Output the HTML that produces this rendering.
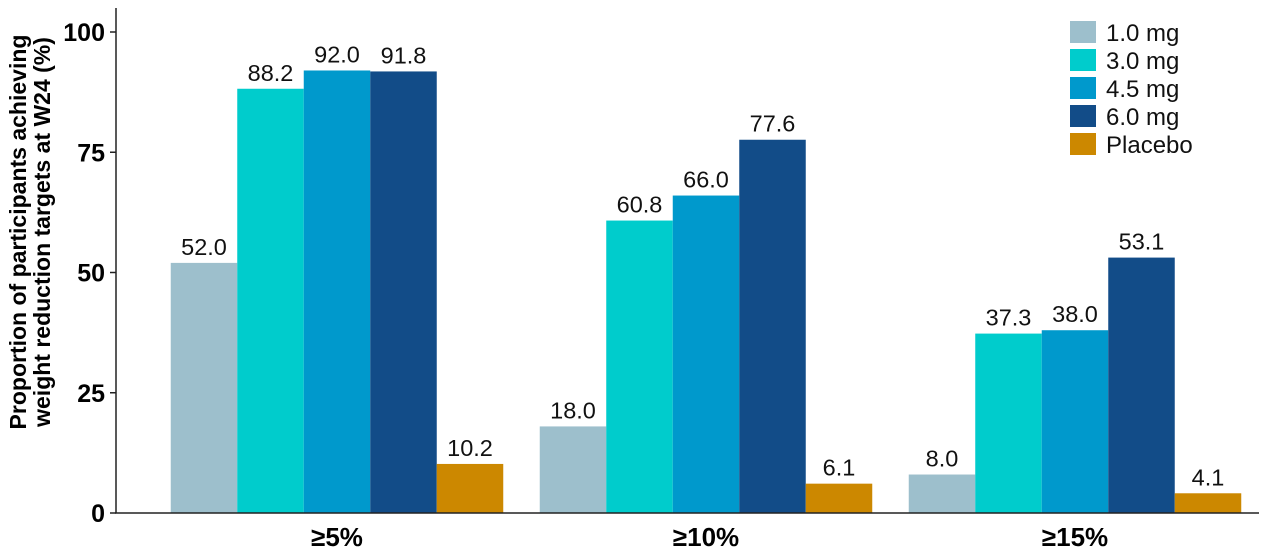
<!DOCTYPE html>
<html><head><meta charset="utf-8"><style>
body{margin:0;background:#fff;}
svg{display:block;font-family:"Liberation Sans",Arial,sans-serif;}
</style></head><body>
<svg id="chart" width="1270" height="554">
<g id="bars"></g>
<g id="axes"></g>
<g id="legend"></g>
<text transform="translate(30,232) rotate(-90)" text-anchor="middle" font-weight="bold" font-size="23" fill="#000"><tspan x="0" dy="-4">Proportion of participants achieving</tspan><tspan x="0" dy="24">weight reduction targets at W24 (%)</tspan></text>
</svg>
<script>
const categories = ["≥5%", "≥10%", "≥15%"];
const seriesNames = ["1.0 mg", "3.0 mg", "4.5 mg", "6.0 mg", "Placebo"];
const s10 = [52.0, 18.0, 8.0];
const s30 = [88.2, 60.8, 37.3];
const s45 = [92.0, 66.0, 38.0];
const s60 = [91.8, 77.6, 53.1];
const sPlacebo = [10.2, 6.1, 4.1];
const yTicks = [0, 25, 50, 75, 100];
const colors = ["#9dbfcc", "#00cccc", "#0099cc", "#124c88", "#cc8800"];
const series = [s10, s30, s45, s60, sPlacebo];

const NS = "http://www.w3.org/2000/svg";
const y0 = 513, pxPerUnit = 4.81;
function yScale(v){ return y0 - v * pxPerUnit; }
const firstCenter = 337, groupStep = 369, barW = 66.5;
function xCenter(i){ return firstCenter + i * groupStep; }
function mk(tag, attrs, parent){ const e = document.createElementNS(NS, tag); for (const k in attrs) e.setAttribute(k, attrs[k]); parent.appendChild(e); return e; }

const bars = document.getElementById('bars');
series.forEach((vals, s) => {
  vals.forEach((v, i) => {
    const x = xCenter(i) - 2.5 * barW + s * barW;
    const r = mk('rect', {x: x, y: yScale(v), width: barW, height: y0 - yScale(v), fill: colors[s]}, bars);
    
    
    const t = mk('text', {x: x + barW / 2, y: yScale(v) - 8, 'text-anchor': 'middle', 'font-size': 23.5, fill: '#111'}, bars);
    t.textContent = v.toFixed(1);
    
    
  });
});

const axes = document.getElementById('axes');
const ya = mk('line', {x1: 116, y1: 8, x2: 116, y2: y0, stroke: '#222', 'stroke-width': 1.5}, axes);


const xa = mk('line', {x1: 115, y1: y0, x2: 1259, y2: y0, stroke: '#222', 'stroke-width': 1.5}, axes);


yTicks.forEach(v => {
  const l = mk('line', {x1: 110, y1: yScale(v), x2: 116, y2: yScale(v), stroke: '#222', 'stroke-width': 1.5}, axes);
  
  
  const t = mk('text', {x: 105, y: yScale(v) + 9, 'text-anchor': 'end', 'font-size': 25, 'font-weight': 'bold', fill: '#000'}, axes);
  t.textContent = v;
  
  
});
categories.forEach((c, i) => {
  const t = mk('text', {x: xCenter(i), y: 546, 'text-anchor': 'middle', 'font-size': 26, 'font-weight': 'bold', fill: '#000'}, axes);
  t.textContent = c;
  
  
});

const legend = document.getElementById('legend');
seriesNames.forEach((n, s) => {
  const y = 21 + s * 28;
  const r = mk('rect', {x: 1070, y: y, width: 26, height: 22, fill: colors[s]}, legend);
  
  
  const t = mk('text', {x: 1106, y: y + 20, 'font-size': 24, fill: '#111'}, legend);
  t.textContent = n;
  
  
});
</script>
</body></html>
